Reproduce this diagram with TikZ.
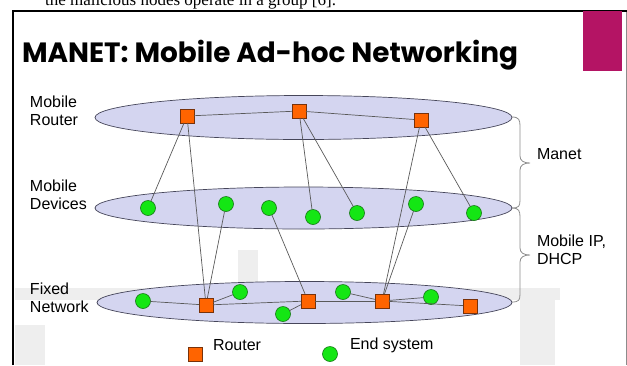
\documentclass[tikz,border=0pt]{standalone}
\usepackage{fontspec}
\setmainfont{Liberation Sans}
\newfontfamily\titlefont{Poppins}
\newfontfamily\seriffont{Liberation Serif}
\definecolor{lav}{RGB}{212,213,240}
\definecolor{lavline}{RGB}{70,70,90}
\definecolor{rorange}{RGB}{255,100,0}
\definecolor{rborder}{RGB}{120,50,10}
\definecolor{egreen}{RGB}{20,230,20}
\definecolor{gborder}{RGB}{20,120,20}
\definecolor{magbox}{RGB}{180,20,100}
\definecolor{wm}{RGB}{238,238,238}
\tikzset{
  every node/.style={inner sep=0pt, outer sep=0pt},
  lbl/.style={font=\fontsize{16}{18}\selectfont, align=left, anchor=west},
  router/.style={draw=rborder, fill=rorange, minimum size=14pt, line width=0.6pt},
  endsys/.style={draw=gborder, fill=egreen, circle, minimum size=15pt, line width=0.6pt},
  plane/.style={draw=lavline, fill=lav, line width=0.7pt},
  link/.style={draw=black!65, line width=0.7pt},
  bracepath/.style={draw=black!45, line width=0.8pt}
}
\begin{document}
\begin{tikzpicture}[x=1pt,y=-1pt]
\useasboundingbox (0,0) rectangle (627,365);
\clip (0,0) rectangle (627,365);
% watermark traces
\fill[wm] (15,288) rectangle (560,300);
\fill[wm] (520,290) rectangle (555,365);
\fill[wm] (238,250) rectangle (258,285);
\fill[wm] (15,325) rectangle (45,365);
% header text of page
\node[anchor=base east, font=\seriffont\fontsize{17}{20}\selectfont] (pagetext) at (336,5) {the malicious nodes operate in a group [6].};
% frame
\draw[black!45, line width=1pt] (626,11) -- (626,365);
\draw[black, line width=2pt] (13,365) -- (13,11) -- (627,11);
\fill[magbox] (583,11) rectangle (622,71);
% title
\node[anchor=base west] (title) at (22,62) {\resizebox{496pt}{!}{\titlefont\bfseries MANET: Mobile Ad-hoc Networking}};
% planes
\draw[plane] (303.5,117.5) ellipse [x radius=208.5, y radius=22];
\draw[plane] (303.5,208) ellipse [x radius=208.5, y radius=21];
\draw[plane] (304.5,302.5) ellipse [x radius=207.5, y radius=21];
% labels
\node[lbl] (lmr) at (30,111) {Mobile\\Router};
\node[lbl] (lmd) at (30,195) {Mobile\\Devices};
\node[lbl] (lfn) at (30,298) {Fixed\\Network};
\node[lbl] (lmanet) at (537,154) {Manet};
\node[lbl] (lip) at (537,249.5) {Mobile IP,\\DHCP};
% mobile routers
\node[router] (R1) at (187,116) {};
\node[router] (R2) at (299,111) {};
\node[router] (R3) at (421,120) {};
% mobile devices
\node[endsys] (d1) at (148,208) {};
\node[endsys] (d2) at (226,204) {};
\node[endsys] (d3) at (269,208) {};
\node[endsys] (d4) at (313,217) {};
\node[endsys] (d5) at (357,213) {};
\node[endsys] (d6) at (416,204) {};
\node[endsys] (d7) at (474,213) {};
% fixed network
\node[endsys] (g1) at (143,301) {};
\node[router] (F1) at (206,305) {};
\node[endsys] (g2) at (240,292) {};
\node[endsys] (g3) at (283,314) {};
\node[router] (F2) at (308,301) {};
\node[endsys] (g4) at (343,292) {};
\node[router] (F3) at (382,301) {};
\node[endsys] (g5) at (431,297) {};
\node[router] (F4) at (470,306) {};
% links
\draw[link] (R1) -- (R2);
\draw[link] (R2) -- (R3);
\draw[link] (R1) -- (d1);
\draw[link] (R1) -- (F1);
\draw[link] (R2) -- (d4);
\draw[link] (R2) -- (d5);
\draw[link] (R3) -- (F3);
\draw[link] (R3) -- (d7);
\draw[link] (d2) -- (F1);
\draw[link] (d3) -- (F2);
\draw[link] (d6) -- (F3);
\draw[link] (g1) -- (F1);
\draw[link] (F1) -- (g2);
\draw[link] (F1) -- (F2);
\draw[link] (g3) -- (F2);
\draw[link] (F2) -- (F3);
\draw[link] (g4) -- (F3);
\draw[link] (F3) -- (g5);
\draw[link] (F3) -- (F4);
% braces
\draw[bracepath] (512,117) .. controls (519,117) and (520,120) .. (520,126) -- (520,156) .. controls (520,161) and (524,163) .. (530,163) .. controls (524,163) and (520,165) .. (520,170) -- (520,200) .. controls (520,206) and (519,208) .. (512,208);
\draw[bracepath] (512,208) .. controls (519,208) and (520,211) .. (520,217) -- (520,248) .. controls (520,253) and (524,255) .. (530,255) .. controls (524,255) and (520,257) .. (520,262) -- (520,294) .. controls (520,300) and (519,302) .. (512,302);
% legend
\node[router] (legR) at (195,354) {};
\node[lbl] (legRt) at (213,345) {Router};
\node[endsys] (legE) at (330,354) {};
\node[lbl] (legEt) at (350,345) {End system};
\end{tikzpicture}
\end{document}
